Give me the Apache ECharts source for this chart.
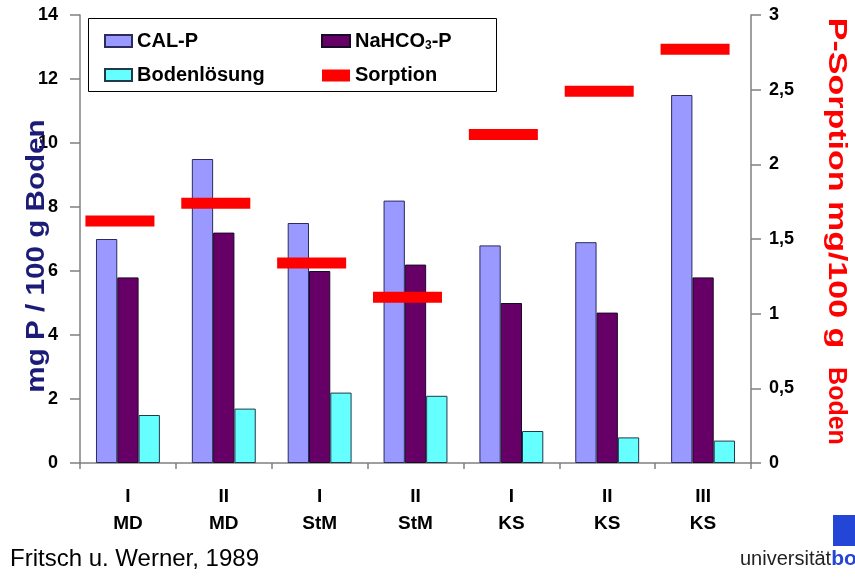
<!DOCTYPE html>
<html>
<head>
<meta charset="utf-8">
<script src="https://cdn.jsdelivr.net/npm/echarts@6/dist/echarts.min.js"></script>
<style>
  html, body { margin: 0; padding: 0; background: #fff; }
  #chart { width: 855px; height: 577px; }
</style>
</head>
<body>
<div id="chart"></div>
<script>
// Standorte (Bewirtschaftungsstufe / Standort)
const categories = ['I\nMD', 'II\nMD', 'I\nStM', 'II\nStM', 'I\nKS', 'II\nKS', 'III\nKS'];
// mg P / 100 g Boden
const calP = [7.0, 9.5, 7.5, 8.2, 6.8, 6.9, 11.5];
const nahco3P = [5.8, 7.2, 6.0, 6.2, 5.0, 4.7, 5.8];
const bodenloesung = [1.5, 1.7, 2.2, 2.1, 1.0, 0.8, 0.7];
// P-Sorption mg / 100 g Boden (rechte Achse)
const sorption = [1.62, 1.74, 1.34, 1.11, 2.2, 2.49, 2.77];
// Achsenbeschriftungen
const leftTicks = [0, 2, 4, 6, 8, 10, 12, 14];
const rightTicks = [0, 0.5, 1, 1.5, 2, 2.5, 3];

const FONT = "'Liberation Sans', Arial, sans-serif";
const chart = echarts.init(document.getElementById('chart'), null, { renderer: 'canvas' });

const tickStyle = { color: '#808080', width: 1.5 };
const legendText = {
  fontFamily: FONT, fontSize: 20, fontWeight: 'bold', color: '#000',
  rich: {
    sub: { fontFamily: FONT, fontSize: 12, fontWeight: 'bold', color: '#000', verticalAlign: 'bottom', padding: [9, 0, 0, 0] }
  }
};

chart.setOption({
  animation: false,
  backgroundColor: '#fff',
  grid: { left: 80, right: 104, top: 15, bottom: 114, containLabel: false, outerBoundsMode: 'none' },
  legend: [
    {
      orient: 'vertical', left: 99, top: 26, itemWidth: 27, itemHeight: 12, itemGap: 14,
      textStyle: legendText,
      data: [
        { name: 'CAL-P', icon: 'rect' },
        { name: 'Bodenlösung', icon: 'rect' }
      ]
    },
    {
      orient: 'vertical', left: 316, top: 26, itemWidth: 28, itemHeight: 12, itemGap: 14,
      textStyle: legendText,
      formatter: n => n === 'NaHCO3-P' ? 'NaHCO{sub|3}-P' : n,
      data: [
        { name: 'NaHCO3-P', icon: 'rect' },
        { name: 'Sorption', icon: 'rect' }
      ]
    }
  ],
  xAxis: {
    type: 'category',
    data: categories,
    axisLine: { lineStyle: tickStyle },
    axisTick: { show: true, inside: false, length: 6, lineStyle: tickStyle },
    axisLabel: {
      margin: 20, fontFamily: FONT, fontSize: 19, fontWeight: 'bold', color: '#000', lineHeight: 27
    }
  },
  yAxis: [
    {
      type: 'value', min: 0, max: 14, interval: 2,
      axisLine: { show: true, lineStyle: tickStyle },
      axisTick: { show: true, length: 10, lineStyle: tickStyle },
      splitLine: { show: false },
      axisLabel: {
        margin: 22, fontFamily: FONT, fontSize: 18, fontWeight: 'bold', color: '#000',
        formatter: v => leftTicks.includes(v) ? String(v) : ''
      }
    },
    {
      type: 'value', min: 0, max: 3, interval: 0.5, position: 'right',
      axisLine: { show: true, lineStyle: tickStyle },
      axisTick: { show: true, length: 10, lineStyle: tickStyle },
      splitLine: { show: false },
      axisLabel: {
        margin: 18, fontFamily: FONT, fontSize: 18, fontWeight: 'bold', color: '#000',
        formatter: v => rightTicks.includes(v) ? String(v).replace('.', ',') : ''
      }
    }
  ],
  series: [
    {
      name: 'CAL-P', type: 'bar', data: calP, barWidth: 21.3, barGap: '0%',
      itemStyle: { color: '#9999ff', borderColor: '#2b2b5e', borderWidth: 1 }
    },
    {
      name: 'NaHCO3-P', type: 'bar', data: nahco3P, barWidth: 21.3, barGap: '0%',
      itemStyle: { color: '#660066', borderColor: '#1a0a2a', borderWidth: 1 }
    },
    {
      name: 'Bodenlösung', type: 'bar', data: bodenloesung, barWidth: 21.3, barGap: '0%',
      itemStyle: { color: '#66ffff', borderColor: '#1f3a4a', borderWidth: 1 }
    },
    {
      name: 'Sorption', type: 'scatter', yAxisIndex: 1, data: sorption,
      symbol: 'rect', symbolSize: [69, 11], symbolOffset: [-8, 0], z: 5,
      itemStyle: { color: '#ff0000', opacity: 1 }
    }
  ],
  graphic: [
    {
      type: 'rect', left: 88, top: 18, z: 0, silent: true,
      shape: { width: 408, height: 73 },
      style: { fill: '#fff', stroke: '#000', lineWidth: 1 }
    },
    // Achsentitel links (gedreht)
    {
      type: 'text', x: 37, y: 256, rotation: Math.PI / 2, scaleX: 1.14, z: 10,
      style: {
        text: 'mg P / 100 g Boden', align: 'center', verticalAlign: 'middle',
        font: "bold 26px 'Liberation Sans', Arial, sans-serif", fill: '#1c1c78'
      }
    },
    // Achsentitel rechts (gedreht)
    {
      type: 'text', x: 836, y: 183, rotation: -Math.PI / 2, scaleX: 1.36, z: 10,
      style: {
        text: 'P-Sorption mg/100 g', align: 'center', verticalAlign: 'middle',
        font: "bold 25px 'Liberation Sans', Arial, sans-serif", fill: '#ff0000'
      }
    },
    {
      type: 'text', x: 836, y: 406, rotation: -Math.PI / 2, z: 10,
      style: {
        text: 'Boden', align: 'center', verticalAlign: 'middle',
        font: "bold 25px 'Liberation Sans', Arial, sans-serif", fill: '#ff0000'
      }
    },
    {
      type: 'text', left: 10, top: 547,
      style: { text: 'Fritsch u. Werner, 1989', font: "24px 'Liberation Sans', Arial, sans-serif", fill: '#000' }
    },
    {
      type: 'rect', left: 833, top: 515,
      shape: { width: 22, height: 31 },
      style: { fill: '#2446d6' }
    },
    {
      type: 'text', left: 740, top: 549,
      style: {
        text: '{a|universität}{b|bo}',
        rich: {
          a: { font: "20px 'Liberation Sans', Arial, sans-serif", fill: '#222' },
          b: { font: "bold 21px 'Liberation Sans', Arial, sans-serif", fill: '#2446d6' }
        }
      }
    }
  ]
});
</script>
</body>
</html>
